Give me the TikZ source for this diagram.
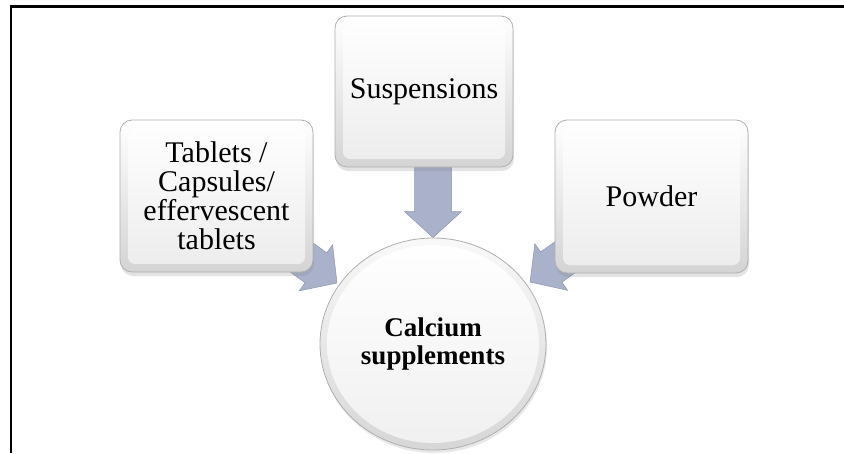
\documentclass[tikz,border=0pt]{standalone}
\usepackage{fontspec}
\setmainfont{Liberation Serif}
\usetikzlibrary{calc,shadows,backgrounds,shapes.geometric}
\definecolor{arrowc}{RGB}{170,178,203}
\definecolor{rimc}{RGB}{175,175,175}
\tikzset{
  boxnode/.style={rounded corners=12pt, draw=rimc, line width=0.8pt,
    top color=white, bottom color=gray!34,
    drop shadow={shadow xshift=1pt,shadow yshift=-4pt,opacity=0.22},
    align=center, font=\fontsize{30}{29}\selectfont, inner sep=0pt,
    path picture={\shade[top color=white, bottom color=gray!15, rounded corners=7pt]
      ($(path picture bounding box.south west)+(8pt,8pt)$) rectangle
      ($(path picture bounding box.north east)+(-8pt,-8pt)$);}},
  centrenode/.style={ellipse, draw=rimc, line width=0.8pt,
    top color=gray!5, bottom color=gray!32,
    drop shadow={shadow xshift=1pt,shadow yshift=-3pt,opacity=0.18},
    minimum width=226pt, minimum height=212pt, inner sep=0pt,
    align=center, font=\fontsize{27}{28}\selectfont\bfseries,
    path picture={\shade[top color=white, bottom color=gray!12]
      (path picture bounding box.center) ellipse [x radius=106pt, y radius=99pt];}},
  arrowfill/.style={fill=arrowc, draw=arrowc!85!black, line width=0.5pt, line join=miter}
}
\newcommand\blkarrow[2]{%
  \coordinate (hb) at ($(#2)!26pt!(#1)$);
  \draw[arrowfill] ($(#1)!18.5pt!90:(#2)$) -- ($(hb)!18.5pt!90:(#2)$)
    -- ($(hb)!28.5pt!90:(#2)$) -- (#2) -- ($(hb)!28.5pt!-90:(#2)$)
    -- ($(hb)!18.5pt!-90:(#2)$) -- ($(#1)!18.5pt!-90:(#2)$) -- cycle;}
\begin{document}
\begin{tikzpicture}[x=1pt,y=-1pt]
\useasboundingbox (0,0) rectangle (844,453);
\node[boxnode, minimum width=193pt, minimum height=152pt] (tab) at (216.5,196)
  {Tablets /\\Capsules/\\effervescent\\tablets};
\node[boxnode, minimum width=178pt, minimum height=151pt] (sus) at (424,91.5) {Suspensions};
\node[boxnode, minimum width=193pt, minimum height=153pt] (pow) at (651.5,196.5) {Powder};
\node[centrenode] (cal) at (433,344) {Calcium\\supplements};
\coordinate (tipL) at (337,283);
\coordinate (tipR) at (530,282);
\coordinate (dsrc) at (cal.north |- sus.center);
\begin{scope}[on background layer]
  \blkarrow{tab.center}{tipL}
  \blkarrow{pow.center}{tipR}
  \blkarrow{dsrc}{cal.north}
\end{scope}
\draw[line width=2.2pt, line join=miter] (11,453) -- (11,6.5) -- (844,6.5);
\end{tikzpicture}
\end{document}
